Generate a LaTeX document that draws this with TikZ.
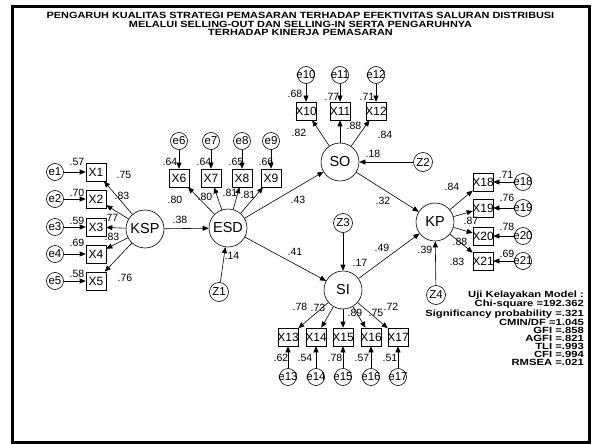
\documentclass[tikz,border=0pt]{standalone}
\usepackage{fontspec}
\setmainfont{Liberation Sans}
\newfontfamily\titlefont[FakeStretch=1.21]{Liberation Sans}
\newfontfamily\fitfont[FakeStretch=1.25]{Liberation Sans}
\usetikzlibrary{arrows.meta}
\newcommand{\zb}[1]{\makebox[0pt][c]{#1}}
\begin{document}
\begin{tikzpicture}[x=1pt,y=-1pt,
  lat/.style={circle,draw,line width=0.6pt,minimum size=38pt,inner sep=0pt,font=\fontsize{14.5}{16}\selectfont},
  ind/.style={rectangle,draw,line width=0.6pt,minimum width=20pt,minimum height=18pt,inner sep=0pt,font=\fontsize{12}{13}\selectfont},
  err/.style={circle,draw,line width=0.6pt,minimum size=17pt,inner sep=0pt,font=\fontsize{11.5}{12}\selectfont},
  dist/.style={circle,draw,line width=0.6pt,minimum size=19pt,inner sep=0pt,font=\fontsize{11.5}{12}\selectfont},
  num/.style={inner sep=0pt,font=\fontsize{10.5}{11}\selectfont},
  arr/.style={-{Triangle[length=6pt,width=5pt]},line width=0.6pt},
  titlestyle/.style={inner sep=0pt,align=center,font=\titlefont\bfseries\fontsize{9}{8.5}\selectfont},
  fitstyle/.style={inner sep=0pt,align=right,font=\fitfont\bfseries\fontsize{9}{8}\selectfont}]
\useasboundingbox (0,0) rectangle (592,444);
\draw[line width=3pt] (12.5,6.5) rectangle (589.5,442.5);

\node[titlestyle,anchor=north] (title) at (300.5,12.3) {PENGARUH KUALITAS STRATEGI PEMASARAN TERHADAP EFEKTIVITAS SALURAN DISTRIBUSI\\MELALUI SELLING-OUT DAN SELLING-IN SERTA PENGARUHNYA\\TERHADAP KINERJA PEMASARAN};

% latent variables
\node[lat] (KSP) at (145,229) {KSP};
\node[lat] (ESD) at (228,228) {ESD};
\node[lat] (SO) at (340,162) {SO};
\node[lat] (SI) at (343,290) {SI};
\node[lat] (KP) at (435,222) {KP};

% disturbances
\node[dist] (Z1) at (219,292) {Z1};
\node[dist] (Z2) at (423,162) {Z2};
\node[dist] (Z3) at (343,223) {Z3};
\node[dist] (Z4) at (436,295) {Z4};

% KSP indicators
\foreach \i/\y in {1/172,2/199,3/227,4/254,5/281} {
  \node[ind] (X\i) at (96,\y) {\zb{X\i}};
  \node[err] (e\i) at (55,\y) {\zb{e\i}};
  \draw[arr] (e\i) -- (X\i);
  \draw[arr] (KSP) -- (X\i);
}
% ESD indicators
\foreach \i/\x in {6/179,7/211,8/242,9/271} {
  \node[ind] (X\i) at (\x,178) {\zb{X\i}};
  \node[err] (e\i) at (\x,141) {\zb{e\i}};
  \draw[arr] (e\i) -- (X\i);
  \draw[arr] (ESD) -- (X\i);
}
% SO indicators
\foreach \i/\x in {10/306,11/340,12/376} {
  \node[ind] (X\i) at (\x,111) {\zb{X\i}};
  \node[err] (e\i) at (\x,75) {\zb{e\i}};
  \draw[arr] (e\i) -- (X\i);
  \draw[arr] (SO) -- (X\i);
}
% SI indicators
\foreach \i/\x in {13/288,14/316,15/343,16/371,17/398} {
  \node[ind] (X\i) at (\x,337) {\zb{X\i}};
  \node[err] (e\i) at (\x,377) {\zb{e\i}};
  \draw[arr] (e\i) -- (X\i);
  \draw[arr] (SI) -- (X\i);
}
% KP indicators
\foreach \i/\y in {18/182,19/208,20/236,21/261} {
  \node[ind] (X\i) at (483,\y) {\zb{X\i}};
  \node[err] (e\i) at (523,\y) {\zb{e\i}};
  \draw[arr] (e\i) -- (X\i);
  \draw[arr] (KP) -- (X\i);
}

% structural paths
\draw[arr] (KSP) -- (ESD);
\draw[arr] (ESD) -- (SO);
\draw[arr] (ESD) -- (SI);
\draw[arr] (SO) -- (KP);
\draw[arr] (SI) -- (KP);
\draw[arr] (Z1) -- (ESD);
\draw[arr] (Z2) -- (SO);
\draw[arr] (Z3) -- (SI);
\draw[arr] (Z4) -- (KP);

% estimates
\foreach \n/\x/\y/\t in {
  a1/77/162/.57, a2/77/193/.70, a3/77/221/.59, a4/77/243/.69, a5/77/274/.58,
  b1/124/175/.75, b2/122/196/.83, b3/111/218/.77, b4/112/237/.83, b5/125/278/.76,
  c1/180/220/.38,
  a6/170/162/.64, a7/204/162/.64, a8/236/162/.65, a9/266/162/.66,
  b6/175/200/.80, b7/205/197/.80, b8/230/193/.81, b9/248/195/.81,
  c2/298/200/.43, c3/295/252/.41, c4/232/256/.14,
  a10/295/94/.68, a11/332/97/.77, a12/367/97/.71,
  b10/299/133/.82, b11/354/126/.88, b12/385/135/.84,
  c5/373/154/.18, c6/383/201/.32,
  c7/360/263/.17, c8/382/248/.49, c9/425/250/.39,
  b13/300/307/.78, b14/318/308/.73, b15/355/313/.89, b16/376/313/.75, b17/391/307/.72,
  a13/281/358/.62, a14/305/358/.54, a15/335/358/.78, a16/362/358/.57, a17/390/358/.51,
  b18/452/187/.84, b19/471/221/.87, b20/460/242/.88, b21/457/262/.83,
  a18/506/175/.71, a19/507/198/.76, a20/507/227/.78, a21/507/254/.69} {
  \node[num] (\n) at (\x,\y) {\t};
}

\node[fitstyle,anchor=north east] (fit) at (584,290.8) {Uji Kelayakan Model :\\Chi-square =192.362\\Significancy probability =.321\\CMIN/DF =1.045\\GFI =.858\\AGFI =.821\\TLI =.993\\CFI =.994\\RMSEA =.021};
\end{tikzpicture}
\end{document}
